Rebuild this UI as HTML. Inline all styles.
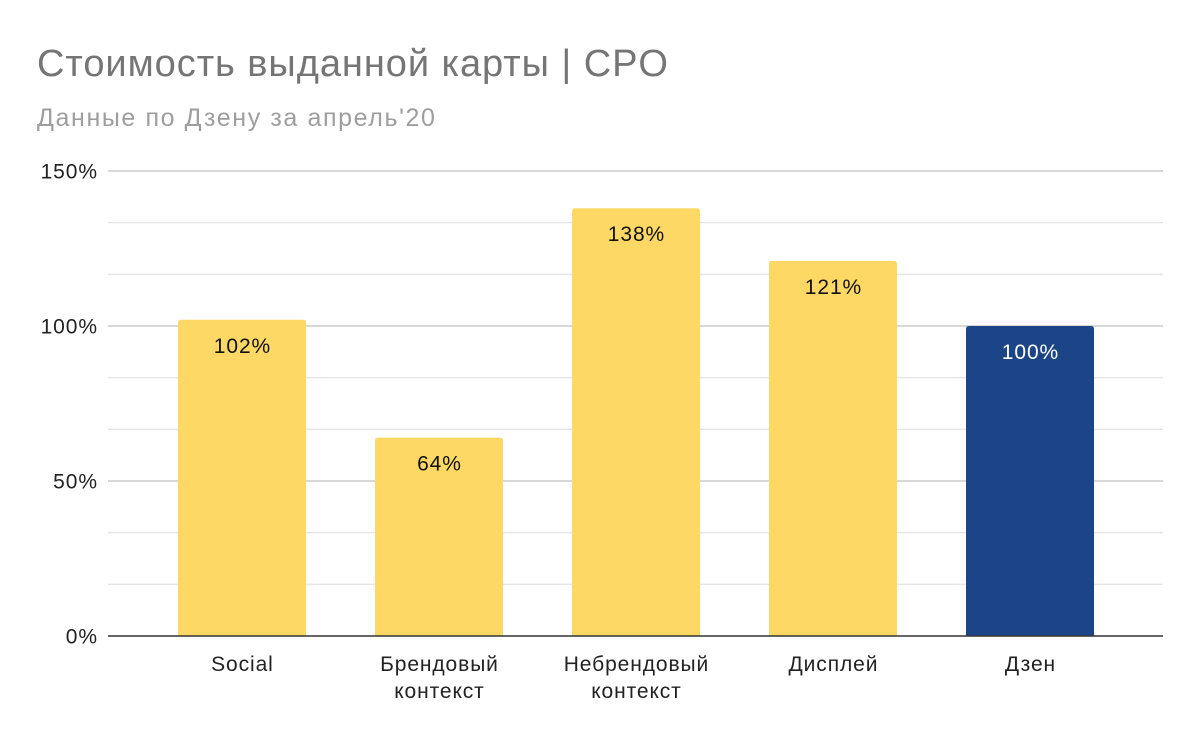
<!DOCTYPE html>
<html><head><meta charset="utf-8"><style>
body{margin:0;background:#fff;font-family:"Liberation Sans",Arial,sans-serif}
svg text{font-family:"Liberation Sans",Arial,sans-serif}
</style></head><body>
<svg width="1200" height="742">
<text x="37" y="76" font-size="38" fill="#757575" letter-spacing="0.95">Стоимость выданной карты | CPO</text>
<text x="37" y="126" font-size="25" fill="#9e9e9e" letter-spacing="1.6">Данные по Дзену за апрель'20</text>
<g id="grid"></g><g id="bars"></g><g id="labels"></g>
</svg>
<script>
const categories=[["Social"],["Брендовый","контекст"],["Небрендовый","контекст"],["Дисплей"],["Дзен"]];
const values=[102,64,138,121,100];
const valueLabels=["102%","64%","138%","121%","100%"];
const highlight=[false,false,false,false,true];
const yTicks=[0,50,100,150];
const yTickLabels=["0%","50%","100%","150%"];
const ns="http://www.w3.org/2000/svg";
const y0=636,pxPer=(636-171)/150;
function y(v){return y0-v*pxPer;}
function x(i){return 242+i*197;}
function mk(t,a,p){const e=document.createElementNS(ns,t);for(const k in a)e.setAttribute(k,a[k]);p.appendChild(e);return e;}
const grid=document.getElementById('grid'),bars=document.getElementById('bars'),labs=document.getElementById('labels');
const LS=0.9,FS=21;
for(let k=0;k<9;k++){const v=k*150/9;if(k%3===0)continue;
 const l=mk('line',{x1:108,x2:1163,y1:y(v),y2:y(v),stroke:'#e6e6e6','stroke-width':1.5},grid);
 
 }
yTicks.forEach((v,i)=>{
 if(v!==0){const l=mk('line',{x1:108,x2:1163,y1:y(v),y2:y(v),stroke:'#cccccc','stroke-width':1.5},grid);
 
 }
 const t=mk('text',{x:97+LS,y:y(v)+7.5,'font-size':FS,'text-anchor':'end',fill:'#222','letter-spacing':LS},labs);t.textContent=yTickLabels[i];
 
 
});
values.forEach((v,i)=>{
 const cx=x(i),top=y(v);
 const r=mk('path',{d:`M${cx-64},${y0}V${top+3}Q${cx-64},${top} ${cx-61},${top}H${cx+61}Q${cx+64},${top} ${cx+64},${top+3}V${y0}Z`,fill:highlight[i]?'#1c4587':'#fdd865'},bars);
 
 
 const t=mk('text',{x:cx+LS/2,y:top+33,'font-size':FS,'text-anchor':'middle',fill:highlight[i]?'#fff':'#111','letter-spacing':LS},labs);t.textContent=valueLabels[i];
 
 
 categories[i].forEach((s,j)=>{const c=mk('text',{x:cx+LS/2,y:671+j*27,'font-size':FS,'text-anchor':'middle',fill:'#222','letter-spacing':LS},labs);c.textContent=s;
 
 });
});
const ax=mk('line',{x1:108,x2:1163,y1:y0,y2:y0,stroke:'#333','stroke-width':1.5},labs);


</script>
</body></html>
